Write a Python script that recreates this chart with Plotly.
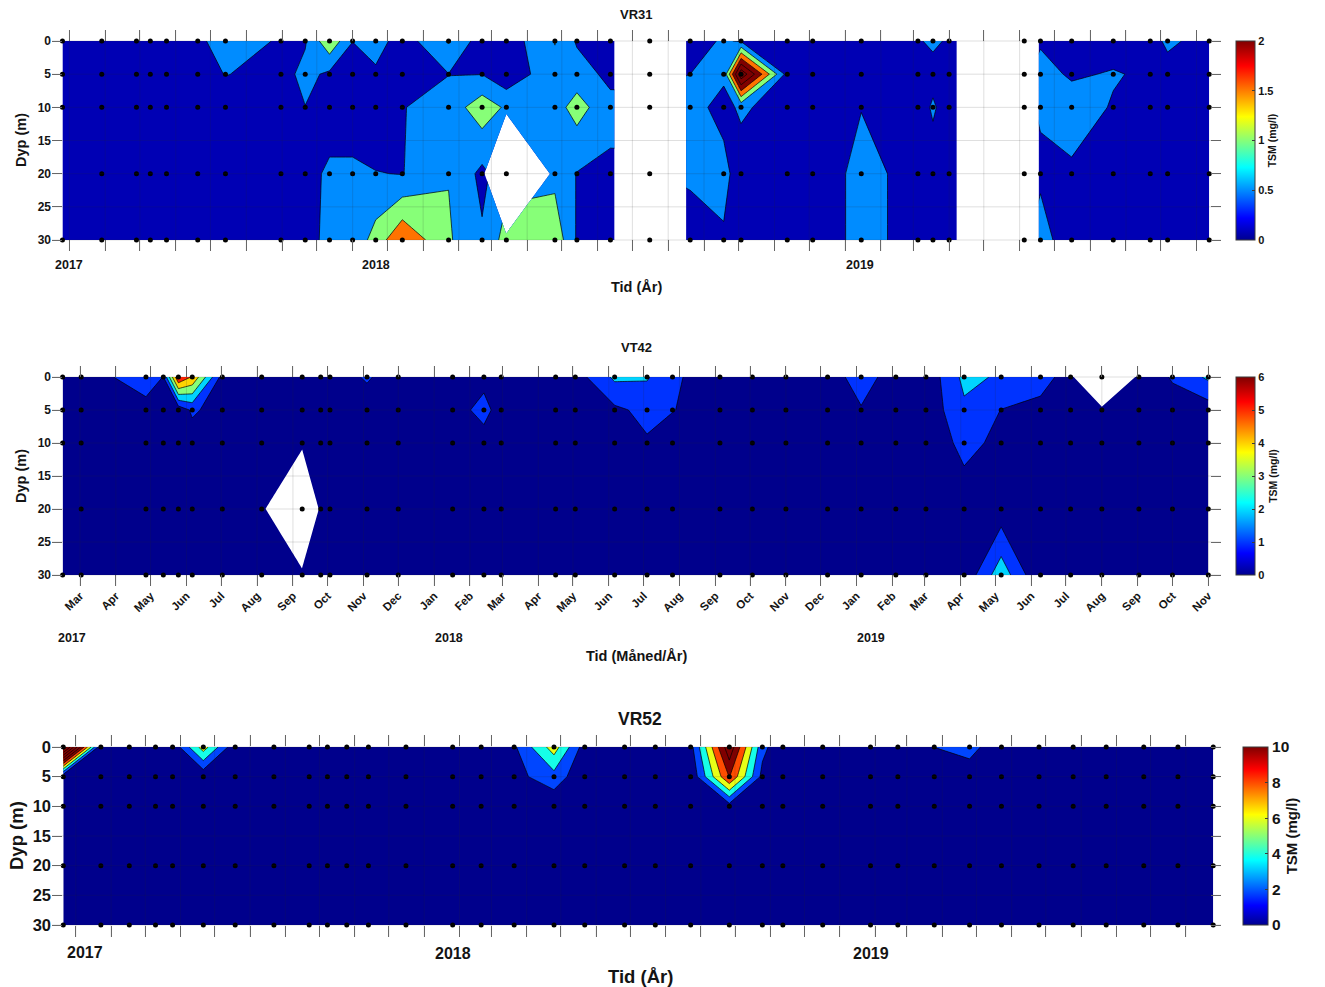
import numpy as np
import pandas as pd
import plotly.graph_objects as go

nan = float('nan')
W, H = 1325, 987
FONT = 'Liberation Sans'

depths = [0, 5, 10, 20, 30]
depth_ticks = [0, 5, 10, 15, 20, 25, 30]

# ---------------- VR31 (TSM mg/l), one list per sampling date: values at 0,5,10,20,30 m
vr31_dates = ['2017-02-23', '2017-03-29', '2017-04-28', '2017-05-10', '2017-05-24', '2017-06-20',
              '2017-07-14', '2017-08-31', '2017-09-21', '2017-10-12', '2017-11-01', '2017-11-21',
              '2017-12-14', '2018-01-23', '2018-02-21', '2018-03-14', '2018-04-25', '2018-05-14',
              '2018-06-12', '2018-07-16', '2018-08-20', '2018-09-18', '2018-10-03', '2018-11-12',
              '2018-12-04', '2019-01-15', '2019-03-05', '2019-03-18', '2019-04-01', '2019-06-05',
              '2019-06-19', '2019-07-16', '2019-08-21', '2019-09-22', '2019-10-07', '2019-11-12']
vr31_tsm = [
    [0.2, 0.2, 0.2, 0.2, 0.2],
    [0.2, 0.2, 0.2, 0.2, 0.2],
    [0.2, 0.2, 0.2, 0.2, 0.2],
    [0.2, 0.2, 0.2, 0.2, 0.2],
    [0.2, 0.2, 0.2, 0.2, 0.2],
    [0.3, 0.25, 0.2, 0.2, 0.2],
    [0.93, 0.52, 0.2, 0.2, 0.2],
    [0.41, 0.3, 0.2, 0.2, 0.2],
    [0.45, 0.65, 0.49, 0.2, 0.2],
    [1.4, 0.4, 0.05, 0.65, 0.72],
    [0.51, 0.2, 0.05, 0.65, 0.63],
    [0.75, 0.4, 0.1, 0.52, 1.21],
    [0.23, 0.2, 0.48, 0.48, 1.95],
    [1.05, 0.49, 0.7, 0.98, 1.06],
    [0.22, 0.49, 1.3, 0.37, 0.57],
    [0.2, 0.14, 0.92, nan, 1.2],
    [1.02, 0.86, 0.8, 0.85, 1.35],
    [0.44, 0.745, 1.2, 0.48, 0.45],
    [0.2, 0.36, 0.66, 0.4, 0.2],
    [nan, nan, nan, nan, nan],
    [0.3, 0.5, 0.7, 0.6, 0.2],
    [0.556, 0.6, 0.32, 0.68, 0.43],
    [0.45, 3.4, 0.6, 0.19, 0.2],
    [0.2, 0.3, 0.2, 0.2, 0.2],
    [0.2, 0.2, 0.2, 0.1, 0.1],
    [0.2, 0.2, 0.484, 0.69, 0.69],
    [0.45, 0.2, 0.2, 0.28, 0.28],
    [0.6, 0.3, 0.58, 0.2, 0.2],
    [0.43, 0.2, 0.2, 0.2, 0.2],
    [nan, nan, nan, nan, nan],
    [0.43, 0.71, 0.56, 0.4, 0.73],
    [0.2, 0.42, 0.8, 0.4, 0.155],
    [0.2, 0.55, 0.45, 0.2, 0.2],
    [0.2, 0.39, 0.2, 0.2, 0.2],
    [0.65, 0.2, 0.2, 0.2, 0.2],
    [0.2, 0.2, 0.2, 0.2, 0.2],
]
vr31_no_dot = [(0, 20), (20, 20)]

# ---------------- VT42
vt42_dates = ['2017-02-14', '2017-03-02', '2017-04-27', '2017-05-12', '2017-05-25', '2017-06-06',
              '2017-07-02', '2017-08-05', '2017-09-09', '2017-09-25', '2017-10-03', '2017-11-04',
              '2017-12-01', '2018-01-17', '2018-02-13', '2018-02-28', '2018-04-16', '2018-05-03',
              '2018-06-06', '2018-07-04', '2018-07-26', '2018-09-05', '2018-10-03', '2018-11-01',
              '2018-12-07', '2019-01-05', '2019-02-04', '2019-03-02', '2019-04-04', '2019-05-06',
              '2019-06-09', '2019-07-05', '2019-08-01', '2019-09-02', '2019-10-01', '2019-11-01']
vt42_tsm = [
    [0.3, 0.3, 0.3, 0.3, 0.3],
    [0.3, 0.3, 0.3, 0.3, 0.3],
    [1.7, 0.53, 0.3, 0.3, 0.3],
    [0.97, 0.3, 0.3, 0.3, 0.3],
    [6.0, 0.32, 0.3, 0.3, 0.3],
    [4.9, 1.18, 0.43, 0.3, 0.3],
    [0.6, 0.49, 0.3, 0.3, 0.3],
    [0.3, 0.3, 0.3, 0.3, 0.3],
    [0.3, 0.3, 0.3, nan, 0.3],
    [0.3, 0.3, 0.3, 0.3, 0.3],
    [0.3, 0.3, 0.3, 0.3, 0.3],
    [1.15, 0.35, 0.3, 0.3, 0.3],
    [0.3, 0.3, 0.3, 0.3, 0.3],
    [0.3, 0.4, 0.3, 0.3, 0.3],
    [0.58, 1.45, 0.43, 0.3, 0.3],
    [0.3, 0.38, 0.3, 0.3, 0.3],
    [0.3, 0.3, 0.3, 0.3, 0.3],
    [0.51, 0.3, 0.3, 0.3, 0.3],
    [2.2, 0.8, 0.3, 0.3, 0.3],
    [2.1, 1.27, 0.9, 0.3, 0.3],
    [1.2, 1.05, 0.4, 0.3, 0.3],
    [0.3, 0.3, 0.3, 0.3, 0.3],
    [0.3, 0.3, 0.3, 0.3, 0.3],
    [0.3, 0.3, 0.3, 0.3, 0.3],
    [0.3, 0.3, 0.3, 0.3, 0.3],
    [1.63, 0.9, 0.3, 0.3, 0.3],
    [0.32, 0.3, 0.3, 0.3, 0.3],
    [0.26, 0.31, 0.2, 0.3, 0.24],
    [2.26, 1.81, 1.32, 0.4, 0.24],
    [1.87, 0.98, 0.73, 0.4, 2.62],
    [1.55, 0.6, 0.3, 0.3, 0.05],
    [0.4, 0.3, 0.3, 0.3, 0.3],
    [nan, 0.3, 0.3, 0.3, 0.3],
    [0.3, 0.3, 0.3, 0.3, 0.3],
    [1.09, 0.59, 0.3, 0.3, 0.3],
    [2.19, 0.49, 0.3, 0.3, 0.3],
]
vt42_no_dot = [(0, 20)]

# ---------------- VR52
vr52_dates = ['2017-02-18', '2017-03-23', '2017-04-17', '2017-05-10', '2017-05-25', '2017-06-21',
              '2017-07-19', '2017-08-22', '2017-09-22', '2017-10-08', '2017-10-25', '2017-11-13',
              '2017-12-16', '2018-01-26', '2018-02-20', '2018-03-21', '2018-04-25', '2018-05-22',
              '2018-06-26', '2018-07-23', '2018-08-23', '2018-09-26', '2018-10-25', '2018-11-12',
              '2018-12-17', '2019-01-28', '2019-02-21', '2019-03-25', '2019-04-25', '2019-05-23',
              '2019-06-25', '2019-07-25', '2019-08-23', '2019-09-25', '2019-10-25', '2019-11-25']
vr52_tsm = [
    [22.0, 0.3, 0.5, 0.5, 0.5],
    [0.4, 0.5, 0.5, 0.5, 0.5],
    [0.5, 0.5, 0.5, 0.5, 0.5],
    [2.05, 0.5, 0.5, 0.5, 0.5],
    [0.5, 0.5, 0.5, 0.5, 0.5],
    [7.0, 0.42, 0.5, 0.5, 0.5],
    [0.5, 0.5, 0.5, 0.5, 0.5],
    [0.5, 0.5, 0.5, 0.5, 0.5],
    [0.5, 0.5, 0.5, 0.5, 0.5],
    [0.5, 0.5, 0.5, 0.5, 0.5],
    [0.5, 0.5, 0.5, 0.5, 0.5],
    [0.5, 0.5, 0.5, 0.5, 0.5],
    [0.5, 0.5, 0.5, 0.5, 0.5],
    [0.5, 0.5, 0.5, 0.5, 0.5],
    [0.5, 0.5, 0.5, 0.5, 0.5],
    [1.68, 1.3, 0.5, 0.5, 0.5],
    [7.0, 3.25, 0.41, 0.5, 0.5],
    [1.0, 0.3, 0.5, 0.5, 0.5],
    [0.5, 0.5, 0.5, 0.5, 0.5],
    [0.5, 0.5, 0.5, 0.5, 0.5],
    [1.24, 0.3, 0.5, 0.5, 0.5],
    [13.5, 10.1, 1.1, 0.5, 0.5],
    [2.6, 1.4, 0.5, 0.5, 0.5],
    [0.46, 0.5, 0.5, 0.5, 0.5],
    [0.5, 0.5, 0.5, 0.5, 0.5],
    [0.5, 0.5, 0.5, 0.5, 0.5],
    [0.5, 0.5, 0.5, 0.5, 0.5],
    [2.02, 0.4, 0.5, 0.5, 0.5],
    [2.77, 0.85, 0.5, 0.5, 0.5],
    [0.5, 0.5, 0.5, 0.5, 0.5],
    [0.5, 0.5, 0.5, 0.5, 0.5],
    [0.5, 0.5, 0.5, 0.5, 0.5],
    [0.5, 0.5, 0.5, 0.5, 0.5],
    [0.5, 0.5, 0.5, 0.5, 0.5],
    [0.5, 0.5, 0.5, 0.5, 0.5],
    [0.5, 0.5, 0.5, 0.5, 0.5],
]
vr52_no_dot = []

year_labels = ['2017', '2018', '2019']

# MATLAB-like jet for the colour bars
matlab_jet = [[0.0, 'rgb(0,0,143)'], [0.11, 'rgb(0,0,255)'], [0.365, 'rgb(0,255,255)'],
              [0.62, 'rgb(255,255,0)'], [0.875, 'rgb(255,0,0)'], [1.0, 'rgb(128,0,0)']]

panels = [
    dict(name='VR31', dates=vr31_dates, tsm=vr31_tsm, no_dot=vr31_no_dot,
         levels=(0.5, 3.5, 0.5),
         bands=['#0000B4', '#008CFF', '#87FF78', '#FF7300', '#800000', '#800000', '#800000', '#800000'],
         cmax=2, cticks=[0, 0.5, 1, 1.5, 2],
         top=30, bottom=251, p0=41, p30=240, mar_px=69.4, nov_px=1196.5,
         cb_x=1236, cb_th=19, month_labels=False,
         fs_tick=12, fs_title=13, fs_axt=14.5, fs_year=12.5, fs_cb=11, fs_cbt=10.5,
         title_xy=(636, 15), xt_xy=(636, 287), xt='Tid (År)', yt_xy=(21, 140),
         years_xy=[(69, 265), (376, 265), (860, 265)]),
    dict(name='VT42', dates=vt42_dates, tsm=vt42_tsm, no_dot=vt42_no_dot,
         levels=(1, 5, 1),
         bands=['#00008C', '#0033FF', '#00D4FF', '#87FF78', '#FFD400', '#FF2300'],
         cmax=6, cticks=[0, 1, 2, 3, 4, 5, 6],
         top=366, bottom=586, p0=377, p30=575, mar_px=80, nov_px=1208.3,
         cb_x=1236, cb_th=19, month_labels=True,
         fs_tick=12, fs_title=13, fs_axt=14.5, fs_year=12.5, fs_cb=11, fs_cbt=10.5,
         title_xy=(636, 347), xt_xy=(636, 656), xt='Tid (Måned/År)', yt_xy=(21, 476),
         years_xy=[(72, 638), (449, 638), (871, 638)]),
    dict(name='VR52', dates=vr52_dates, tsm=vr52_tsm, no_dot=vr52_no_dot,
         levels=(2, 20, 2),
         bands=['#00008C', '#0046FF', '#16FFE8', '#E8FF17', '#FF4C00'] + ['#800000'] * 6,
         cmax=10, cticks=[0, 2, 4, 6, 8, 10],
         top=735, bottom=937, p0=747, p30=925, mar_px=75.8, nov_px=1185.9,
         cb_x=1243, cb_th=25, month_labels=False,
         fs_tick=16.5, fs_title=17.5, fs_axt=18.5, fs_year=16, fs_cb=15.5, fs_cbt=15,
         title_xy=(640, 719), xt_xy=(640, 976), xt='Tid (År)', yt_xy=(16, 836),
         years_xy=[(85, 952), (453, 953), (871, 953)]),
]

X_LEFT, X_RIGHT = 52, 1221
GRID = 'rgba(38,38,38,0.15)'
month_starts = pd.date_range('2017-03-01', '2019-11-01', freq='MS')


def x_range(mar_px, nov_px):
    t0 = pd.Timestamp('2017-03-01')
    t1 = pd.Timestamp('2019-11-01')
    step = (t1 - t0) / (nov_px - mar_px)
    a = t0 + step * (X_LEFT - mar_px)
    b = t0 + step * (X_RIGHT - mar_px)
    return [a.strftime('%Y-%m-%d %H:%M:%S'), b.strftime('%Y-%m-%d %H:%M:%S')]


def y_range(p0, p30, top, bottom):
    ppm = (p30 - p0) / 30.0
    return [30 + (bottom - p30) / ppm, (top - p0) / ppm]


def band_scale(colors):
    n = len(colors) - 1
    return [[k / n, c] for k, c in enumerate(colors)]


def ann(text, px, py, size, angle=0):
    return dict(text='<b>' + text + '</b>', x=px / W, y=1 - py / H, xref='paper', yref='paper',
                showarrow=False, textangle=angle, xanchor='center', yanchor='middle',
                font=dict(family=FONT, size=size, color='#141414'))


fig = go.Figure()
annotations = []
shapes = []
layout_axes = {}

for i, p in enumerate(panels):
    k = '' if i == 0 else str(i + 1)
    xname, yname = 'x' + k, 'y' + k
    z = np.array(p['tsm'], dtype=float).T
    zlist = [[None if np.isnan(v) else float(v) for v in row] for row in z]
    s, e, sz = p['levels']

    fig.add_trace(go.Contour(
        x=p['dates'], y=depths, z=zlist, xaxis=xname, yaxis=yname,
        autocontour=False,
        contours=dict(start=s, end=e, size=sz, coloring='fill', showlines=True),
        colorscale=band_scale(p['bands']), showscale=False,
        line=dict(color='black', width=0.7, smoothing=0), connectgaps=False, hoverinfo='skip'))

    dx, dy = [], []
    for ci, d in enumerate(p['dates']):
        for dep in depths:
            if (ci, dep) in p['no_dot']:
                continue
            dx.append(d)
            dy.append(dep)
    fig.add_trace(go.Scatter(x=dx, y=dy, mode='markers', xaxis=xname, yaxis=yname,
                             marker=dict(color='black', size=5), hoverinfo='skip'))

    cb_len = p['p30'] - p['p0']
    cb_mid = (p['p30'] + p['p0']) / 2
    fig.add_trace(go.Scatter(
        x=[p['dates'][0]], y=[0], mode='markers', xaxis=xname, yaxis=yname, hoverinfo='skip',
        marker=dict(size=1, opacity=0, color=[0], cmin=0, cmax=p['cmax'], colorscale=matlab_jet,
                    showscale=True,
                    colorbar=dict(x=p['cb_x'] / W, xanchor='left', xpad=0, ypad=0,
                                  thickness=p['cb_th'], thicknessmode='pixels',
                                  len=cb_len, lenmode='pixels', y=1 - cb_mid / H, yanchor='middle',
                                  outlinewidth=1, outlinecolor='#3a3a3a',
                                  tickvals=p['cticks'], ticktext=[f'{v:g}' for v in p['cticks']],
                                  ticks='inside', ticklen=3, tickcolor='#3a3a3a',
                                  tickfont=dict(family=FONT, size=p['fs_cb'], color='#141414',
                                                weight='bold'),
                                  title=dict(text='<b>TSM (mg/l)</b>', side='right',
                                             font=dict(family=FONT, size=p['fs_cbt'],
                                                       color='#141414'))))))

    # MATLAB-style grid drawn on top of the filled contours (semi-transparent)
    for m in month_starts:
        shapes.append(dict(type='line', xref=xname, yref=yname + ' domain', layer='above',
                           x0=m, x1=m, y0=0, y1=1, line=dict(color=GRID, width=1)))
    for dt in depth_ticks:
        shapes.append(dict(type='line', xref=xname + ' domain', yref=yname, layer='above',
                           x0=0, x1=1, y0=dt, y1=dt, line=dict(color=GRID, width=1)))

    layout_axes['xaxis' + k] = dict(
        domain=[X_LEFT / W, X_RIGHT / W], range=x_range(p['mar_px'], p['nov_px']), type='date',
        anchor=yname, showgrid=False,
        ticks='inside', ticklen=11, tickwidth=1, tickcolor='#707070', mirror='ticks',
        showline=False, zeroline=False, dtick='M1', tick0='2017-03-01',
        showticklabels=p['month_labels'], tickformat='%b', tickangle=-45,
        tickfont=dict(family=FONT, size=11.5, color='#141414', weight='bold'))
    layout_axes['yaxis' + k] = dict(
        domain=[1 - p['bottom'] / H, 1 - p['top'] / H],
        range=y_range(p['p0'], p['p30'], p['top'], p['bottom']),
        anchor=xname, tickvals=depth_ticks, ticks='inside', ticklen=10,
        tickwidth=1, tickcolor='#707070', mirror='ticks', showline=False, zeroline=False,
        showgrid=False,
        tickfont=dict(family=FONT, size=p['fs_tick'], color='#141414', weight='bold'))

    annotations.append(ann(p['name'], *p['title_xy'], p['fs_title']))
    annotations.append(ann(p['xt'], *p['xt_xy'], p['fs_axt']))
    annotations.append(ann('Dyp (m)', *p['yt_xy'], p['fs_axt'], angle=-90))
    for lab, (yx, yy) in zip(year_labels, p['years_xy']):
        annotations.append(ann(lab, yx, yy, p['fs_year']))

fig.update_layout(
    width=W, height=H, margin=dict(l=0, r=0, t=0, b=0),
    paper_bgcolor='white', plot_bgcolor='white', showlegend=False, hovermode=False,
    font=dict(family=FONT, color='#141414'),
    annotations=annotations, shapes=shapes, **layout_axes)

fig.write_html('out.html')
